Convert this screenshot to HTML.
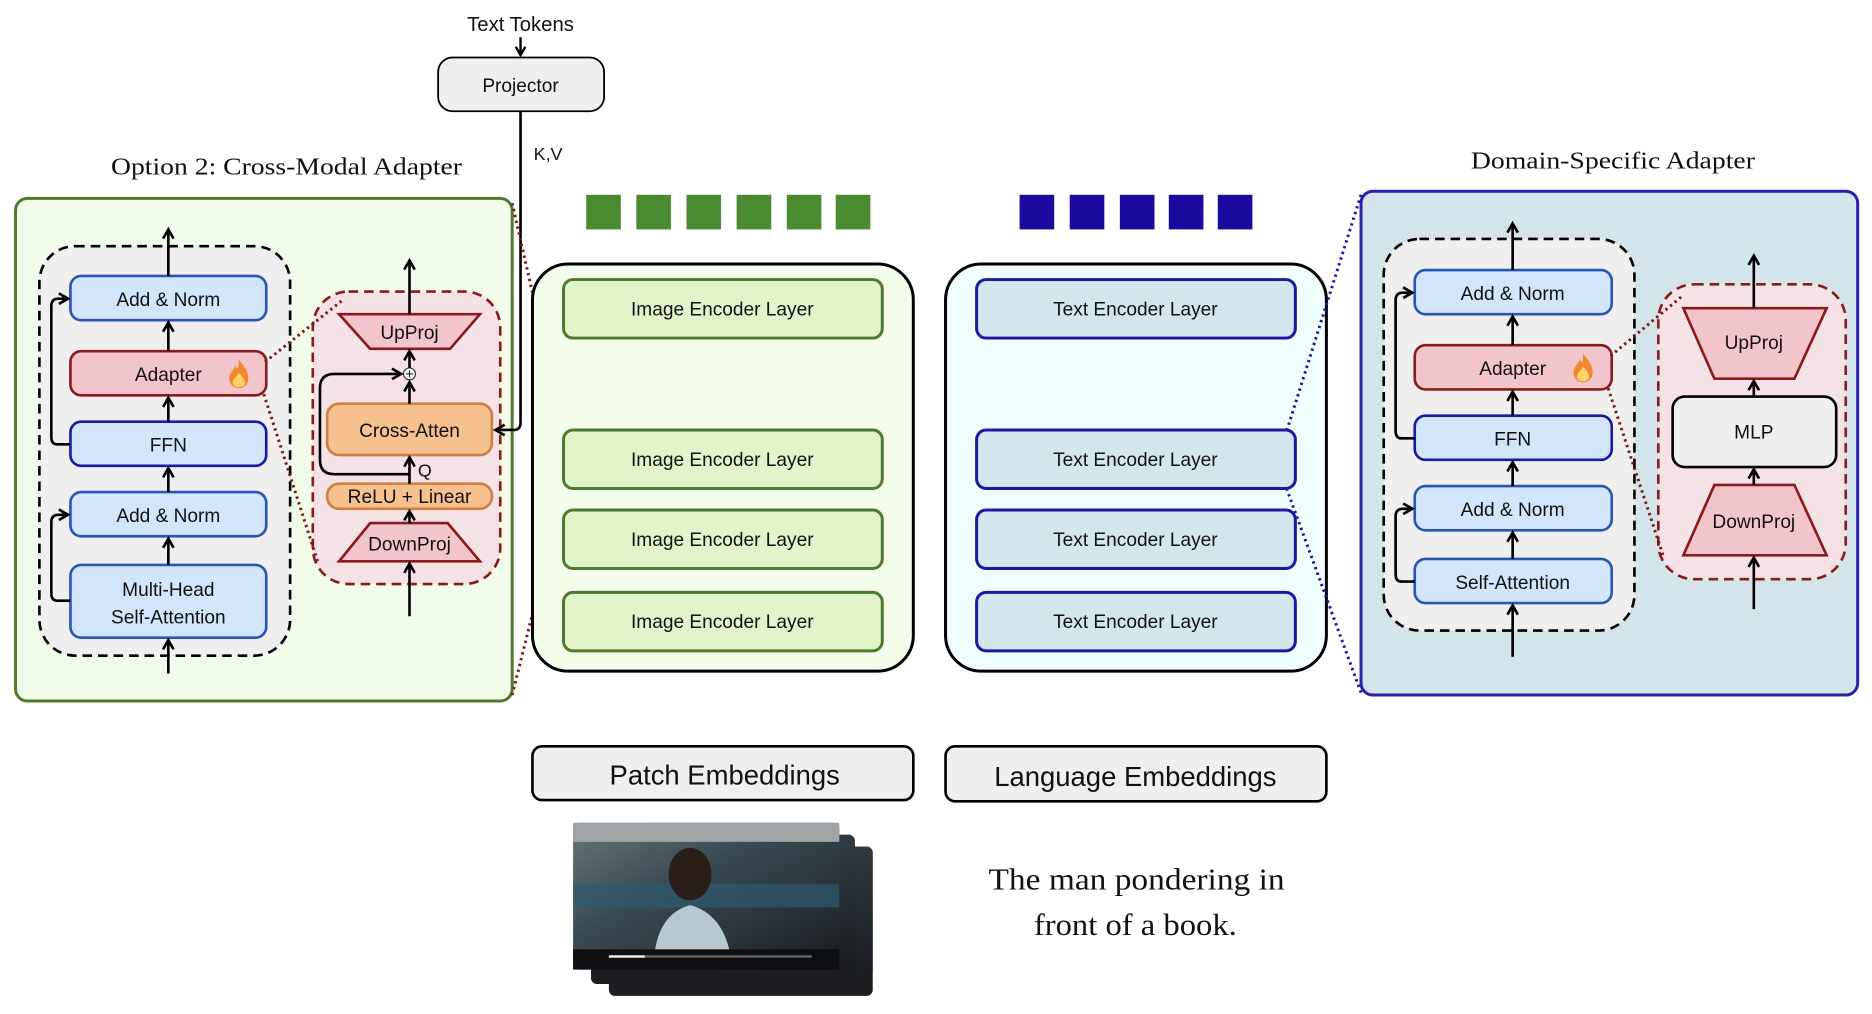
<!DOCTYPE html>
<html><head><meta charset="utf-8"><style>
html,body{margin:0;padding:0;background:#fff;}
svg{display:block;}
text{font-family:"Liberation Sans",sans-serif;fill:#111;}
.serif{font-family:"Liberation Serif",serif;}
</style></head><body>
<svg width="1872" height="1014" viewBox="0 0 1568 849" xmlns="http://www.w3.org/2000/svg">
<defs>
<marker id="ah" viewBox="0 0 10 10" refX="8" refY="5" markerWidth="5" markerHeight="5" orient="auto"><path d="M1,1 L8,5 L1,9" fill="none" stroke="#000" stroke-width="2"/></marker>
<linearGradient id="vid" x1="0" y1="0" x2="1" y2="1"><stop offset="0" stop-color="#6a7478"/><stop offset="0.4" stop-color="#3a4a52"/><stop offset="1" stop-color="#1a1c20"/></linearGradient>
<g id="fire"><path d="M0,-12 C5,-6 8,-2 8,4 C8,9 4,12 0,12 C-4,12 -8,9 -8,4 C-8,-1 -4,-3 -3,-7 C-1,-4 0,-3 0,-12Z" fill="#f0892e"/><path d="M0,-1 C3,2 5,5 5,7 C5,10 3,11 0,11 C-3,11 -5,10 -5,7 C-5,4 -2,3 0,-1Z" fill="#fbd46a"/></g>
</defs>

<!-- top -->
<text x="436" y="26" font-size="17" text-anchor="middle">Text Tokens</text>
<line x1="436" y1="31" x2="436" y2="46" stroke="#000" stroke-width="2" marker-end="url(#ah)"/>
<rect x="367" y="48" width="139" height="45" rx="12" fill="#efefef" stroke="#000" stroke-width="1.5"/>
<text x="436" y="77" font-size="16" text-anchor="middle">Projector</text>
<text x="447" y="134" font-size="15">K,V</text>

<text x="93" y="146" font-size="20" textLength="294" lengthAdjust="spacingAndGlyphs" class="serif">Option 2: Cross-Modal Adapter</text>
<text x="1232" y="141" font-size="20" textLength="238" lengthAdjust="spacingAndGlyphs" class="serif">Domain-Specific Adapter</text>

<!-- green panel -->
<rect x="13" y="166" width="416" height="421" rx="10" fill="#f1fbea" stroke="#4e7a2e" stroke-width="2.5"/>
<rect x="33" y="206" width="210" height="343" rx="30" fill="#efefef" stroke="#000" stroke-width="2.2" stroke-dasharray="8,5"/>
<g stroke-width="2.2">
<rect x="59" y="231" width="164" height="37" rx="9" fill="#d3e5fb" stroke="#2a55b0"/>
<rect x="59" y="294" width="164" height="37" rx="9" fill="#f2c5cc" stroke="#8b1a1a"/>
<rect x="59" y="353" width="164" height="37" rx="9" fill="#d3e5fb" stroke="#1a1aa0"/>
<rect x="59" y="412" width="164" height="37" rx="9" fill="#d3e5fb" stroke="#2a55b0"/>
<rect x="59" y="473" width="164" height="61" rx="9" fill="#d3e5fb" stroke="#2a55b0"/>
</g>
<g font-size="16" text-anchor="middle">
<text x="141" y="256">Add &amp; Norm</text>
<text x="141" y="319">Adapter</text>
<text x="141" y="378">FFN</text>
<text x="141" y="437">Add &amp; Norm</text>
<text x="141" y="499">Multi-Head</text>
<text x="141" y="522">Self-Attention</text>
</g>
<use href="#fire" x="200" y="313"/>
<g stroke="#000" stroke-width="2.2" fill="none">
<line x1="141" y1="231" x2="141" y2="192" marker-end="url(#ah)"/>
<line x1="141" y1="294" x2="141" y2="270" marker-end="url(#ah)"/>
<line x1="141" y1="353" x2="141" y2="333" marker-end="url(#ah)"/>
<line x1="141" y1="412" x2="141" y2="392" marker-end="url(#ah)"/>
<line x1="141" y1="473" x2="141" y2="451" marker-end="url(#ah)"/>
<line x1="141" y1="564" x2="141" y2="536" marker-end="url(#ah)"/>
<path d="M59,372 H48 Q43,372 43,366 V256 Q43,250 49,250 H57" marker-end="url(#ah)"/>
<path d="M59,503 H48 Q43,503 43,497 V437 Q43,431 49,431 H57" marker-end="url(#ah)"/>
</g>
<!-- red cross modal -->
<rect x="262" y="244" width="157" height="245" rx="30" fill="#f5e2e6" stroke="#8b1a1a" stroke-width="2.2" stroke-dasharray="8,5"/>
<polygon points="284,263 402,263 377,292 310,292" fill="#f2c5cc" stroke="#8b1a1a" stroke-width="2.2"/>
<text x="343" y="284" font-size="16" text-anchor="middle">UpProj</text>
<rect x="274" y="338" width="138" height="43" rx="10" fill="#f6c18f" stroke="#cf7f40" stroke-width="2.2"/>
<text x="343" y="366" font-size="16" text-anchor="middle">Cross-Atten</text>
<rect x="274" y="405" width="138" height="21" rx="10" fill="#f6c18f" stroke="#cf7f40" stroke-width="2.2"/>
<text x="343" y="421" font-size="16" text-anchor="middle">ReLU + Linear</text>
<polygon points="310,438 375,438 402,470 284,470" fill="#f2c5cc" stroke="#8b1a1a" stroke-width="2.2"/>
<text x="343" y="461" font-size="16" text-anchor="middle">DownProj</text>
<text x="350" y="399" font-size="15">Q</text>
<circle cx="343" cy="313" r="5" fill="#fff" stroke="#333" stroke-width="1"/>
<path d="M340,313 H346 M343,310 V316" stroke="#333" stroke-width="1"/>
<g stroke="#000" stroke-width="2.2" fill="none">
<line x1="343" y1="263" x2="343" y2="218" marker-end="url(#ah)"/>
<line x1="343" y1="308" x2="343" y2="294" marker-end="url(#ah)"/>
<line x1="343" y1="338" x2="343" y2="320" marker-end="url(#ah)"/>
<line x1="343" y1="405" x2="343" y2="383" marker-end="url(#ah)"/>
<line x1="343" y1="438" x2="343" y2="428" marker-end="url(#ah)"/>
<line x1="343" y1="516" x2="343" y2="472" marker-end="url(#ah)"/>
<path d="M343,397 H280 Q268,397 268,385 V325 Q268,313 280,313 H336" marker-end="url(#ah)"/>
<path d="M436,93 V354 Q436,360 430,360 H415" marker-end="url(#ah)"/>
</g>
<g stroke="#7a1a1a" stroke-width="2.5" stroke-dasharray="2,3" fill="none">
<line x1="222" y1="303" x2="286" y2="252"/>
<line x1="221" y1="330" x2="266" y2="470"/>
<line x1="429" y1="170" x2="472" y2="360"/>
<line x1="429" y1="582" x2="472" y2="410"/>
</g>

<!-- image encoder -->
<g fill="#4a8a30"><rect x="491" y="163" width="29" height="29"/><rect x="533" y="163" width="29" height="29"/><rect x="575" y="163" width="29" height="29"/><rect x="617" y="163" width="29" height="29"/><rect x="659" y="163" width="29" height="29"/><rect x="700" y="163" width="29" height="29"/></g>
<rect x="446" y="221" width="319" height="341" rx="30" fill="#f3fdea" stroke="#000" stroke-width="2.5"/>
<g fill="#e2f3c9" stroke="#4e7a2e" stroke-width="2.5">
<rect x="472" y="234" width="267" height="49" rx="8"/><rect x="472" y="360" width="267" height="49" rx="8"/><rect x="472" y="427" width="267" height="49" rx="8"/><rect x="472" y="496" width="267" height="49" rx="8"/>
</g>
<g font-size="16" text-anchor="middle">
<text x="605" y="264">Image Encoder Layer</text><text x="605" y="390">Image Encoder Layer</text><text x="605" y="457">Image Encoder Layer</text><text x="605" y="526">Image Encoder Layer</text>
</g>

<!-- text encoder -->
<g fill="#1a0aa0"><rect x="854" y="163" width="29" height="29"/><rect x="896" y="163" width="29" height="29"/><rect x="938" y="163" width="29" height="29"/><rect x="979" y="163" width="29" height="29"/><rect x="1020" y="163" width="29" height="29"/></g>
<rect x="792" y="221" width="319" height="341" rx="30" fill="#f0fdfd" stroke="#000" stroke-width="2.5"/>
<g fill="#d3e6eb" stroke="#1a1aa0" stroke-width="2.5">
<rect x="818" y="234" width="267" height="49" rx="8"/><rect x="818" y="360" width="267" height="49" rx="8"/><rect x="818" y="427" width="267" height="49" rx="8"/><rect x="818" y="496" width="267" height="49" rx="8"/>
</g>
<g font-size="16" text-anchor="middle">
<text x="951" y="264">Text Encoder Layer</text><text x="951" y="390">Text Encoder Layer</text><text x="951" y="457">Text Encoder Layer</text><text x="951" y="526">Text Encoder Layer</text>
</g>

<!-- blue panel -->
<rect x="1140" y="160" width="416" height="422" rx="10" fill="#d3e5ea" stroke="#2a20b0" stroke-width="2.5"/>
<g stroke="#1a1aa0" stroke-width="2.5" stroke-dasharray="2,3" fill="none">
<line x1="1140" y1="163" x2="1078" y2="360"/>
<line x1="1140" y1="580" x2="1078" y2="410"/>
</g>
<rect x="1159" y="200" width="210" height="328" rx="30" fill="#efefef" stroke="#000" stroke-width="2.2" stroke-dasharray="8,5"/>
<g stroke-width="2.2">
<rect x="1185" y="226" width="165" height="37" rx="9" fill="#d3e5fb" stroke="#2a55b0"/>
<rect x="1185" y="289" width="165" height="37" rx="9" fill="#f2c5cc" stroke="#8b1a1a"/>
<rect x="1185" y="348" width="165" height="37" rx="9" fill="#d3e5fb" stroke="#1a1aa0"/>
<rect x="1185" y="407" width="165" height="37" rx="9" fill="#d3e5fb" stroke="#2a55b0"/>
<rect x="1185" y="468" width="165" height="37" rx="9" fill="#d3e5fb" stroke="#2a55b0"/>
</g>
<g font-size="16" text-anchor="middle">
<text x="1267" y="251">Add &amp; Norm</text>
<text x="1267" y="314">Adapter</text>
<text x="1267" y="373">FFN</text>
<text x="1267" y="432">Add &amp; Norm</text>
<text x="1267" y="493">Self-Attention</text>
</g>
<use href="#fire" x="1326" y="308"/>
<g stroke="#000" stroke-width="2.2" fill="none">
<line x1="1267" y1="226" x2="1267" y2="187" marker-end="url(#ah)"/>
<line x1="1267" y1="289" x2="1267" y2="265" marker-end="url(#ah)"/>
<line x1="1267" y1="348" x2="1267" y2="328" marker-end="url(#ah)"/>
<line x1="1267" y1="407" x2="1267" y2="387" marker-end="url(#ah)"/>
<line x1="1267" y1="468" x2="1267" y2="446" marker-end="url(#ah)"/>
<line x1="1267" y1="550" x2="1267" y2="507" marker-end="url(#ah)"/>
<path d="M1185,367 H1174 Q1169,367 1169,361 V251 Q1169,245 1175,245 H1183" marker-end="url(#ah)"/>
<path d="M1185,487 H1174 Q1169,487 1169,481 V432 Q1169,426 1175,426 H1183" marker-end="url(#ah)"/>
</g>
<rect x="1389" y="238" width="157" height="247" rx="30" fill="#f5e2e6" stroke="#8b1a1a" stroke-width="2.2" stroke-dasharray="8,5"/>
<polygon points="1410,258 1530,258 1503,317 1436,317" fill="#f2c5cc" stroke="#8b1a1a" stroke-width="2.2"/>
<text x="1469" y="292" font-size="16" text-anchor="middle">UpProj</text>
<rect x="1401" y="332" width="137" height="59" rx="10" fill="#efefef" stroke="#000" stroke-width="2.2"/>
<text x="1469" y="367" font-size="16" text-anchor="middle">MLP</text>
<polygon points="1436,406 1503,406 1530,465 1410,465" fill="#f2c5cc" stroke="#8b1a1a" stroke-width="2.2"/>
<text x="1469" y="442" font-size="16" text-anchor="middle">DownProj</text>
<g stroke="#000" stroke-width="2.2" fill="none">
<line x1="1469" y1="258" x2="1469" y2="214" marker-end="url(#ah)"/>
<line x1="1469" y1="332" x2="1469" y2="319" marker-end="url(#ah)"/>
<line x1="1469" y1="406" x2="1469" y2="393" marker-end="url(#ah)"/>
<line x1="1469" y1="510" x2="1469" y2="467" marker-end="url(#ah)"/>
</g>
<g stroke="#7a1a1a" stroke-width="2.5" stroke-dasharray="2,3" fill="none">
<line x1="1349" y1="298" x2="1410" y2="247"/>
<line x1="1347" y1="325" x2="1393" y2="465"/>
</g>

<!-- embeddings -->
<rect x="446" y="625" width="319" height="45" rx="8" fill="#efefef" stroke="#000" stroke-width="2.2"/>
<text x="607" y="657" font-size="23" text-anchor="middle">Patch Embeddings</text>
<rect x="792" y="625" width="319" height="46" rx="8" fill="#efefef" stroke="#000" stroke-width="2.2"/>
<text x="951" y="658" font-size="23" text-anchor="middle">Language Embeddings</text>

<!-- video frames -->
<rect x="510" y="709" width="221" height="125" rx="5" fill="#1c1e22"/>
<rect x="510" y="709" width="221" height="110" rx="5" fill="url(#vid)" opacity="0.7"/>
<rect x="495" y="699" width="221" height="125" rx="5" fill="#1c1e22"/>
<rect x="495" y="699" width="221" height="110" rx="5" fill="url(#vid)" opacity="0.8"/>
<rect x="480" y="689" width="223" height="123" rx="5" fill="url(#vid)"/>
<rect x="480" y="689" width="223" height="16" fill="#a0a4a6"/>
<rect x="480" y="740" width="223" height="20" fill="#2e5a70" opacity="0.7"/>
<ellipse cx="578" cy="732" rx="18" ry="22" fill="#2a1e18"/>
<path d="M548,800 Q552,765 578,758 Q605,765 612,800 Z" fill="#b8c8d0"/>
<rect x="480" y="795" width="223" height="17" fill="#0e0f12"/>
<rect x="510" y="800" width="170" height="2" fill="#666"/><rect x="510" y="800" width="30" height="2" fill="#eee"/>

<text x="828" y="745" font-size="26" textLength="248" lengthAdjust="spacingAndGlyphs" class="serif">The man pondering in</text>
<text x="866" y="783" font-size="26" textLength="170" lengthAdjust="spacingAndGlyphs" class="serif">front of a book.</text>
</svg>
</body></html>
